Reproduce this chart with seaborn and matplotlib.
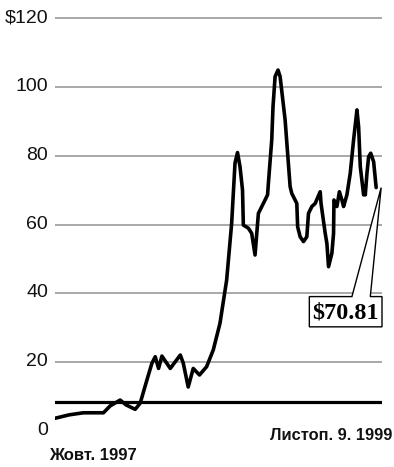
import datetime as dt

import matplotlib
matplotlib.use("Agg")
import matplotlib.pyplot as plt
import matplotlib.dates as mdates
import matplotlib.transforms as mtransforms
from matplotlib.patches import Polygon
import pandas as pd
import seaborn as sns

# Daily closing prices, Oct 1997 - Nov 9 1999
dates = [
    "1997-10-01", "1997-11-04", "1997-12-08", "1998-01-25", "1998-02-10",
    "1998-03-06", "1998-03-20", "1998-04-11", "1998-04-23", "1998-05-09",
    "1998-05-21", "1998-05-29", "1998-06-06", "1998-06-14", "1998-07-04",
    "1998-07-28", "1998-08-04", "1998-08-16", "1998-08-28", "1998-09-12",
    "1998-09-29", "1998-10-15", "1998-10-31", "1998-11-16", "1998-11-28",
    "1998-12-06", "1998-12-12", "1998-12-18", "1998-12-24", "1998-12-26",
    "1999-01-07", "1999-01-15", "1999-01-23", "1999-01-31", "1999-02-16",
    "1999-02-22", "1999-02-24", "1999-03-04", "1999-03-07", "1999-03-12",
    "1999-03-19", "1999-03-24", "1999-04-05", "1999-04-17", "1999-04-21",
    "1999-05-03", "1999-05-05", "1999-05-11", "1999-05-19", "1999-05-27",
    "1999-05-31", "1999-06-08", "1999-06-16", "1999-06-28", "1999-06-30",
    "1999-07-10", "1999-07-14", "1999-07-18", "1999-07-26", "1999-07-30",
    "1999-07-31", "1999-08-07", "1999-08-13", "1999-08-19", "1999-08-23",
    "1999-08-31", "1999-09-08", "1999-09-16", "1999-09-24", "1999-09-28",
    "1999-10-02", "1999-10-10", "1999-10-14", "1999-10-18", "1999-10-22",
    "1999-10-27", "1999-11-03", "1999-11-09",
]
prices = [
    3.7, 4.7, 5.3, 5.3, 7.3,
    9.0, 7.6, 6.3, 8.1, 14.8,
    19.7, 21.6, 18.2, 21.8, 18.2,
    22.1, 19.8, 12.8, 18.2, 16.3,
    18.7, 23.6, 31.3, 43.9, 60.4,
    77.9, 81.0, 76.9, 70.1, 59.9,
    59.0, 57.5, 51.2, 63.3, 67.2,
    68.7, 72.1, 84.7, 94.3, 103.1,
    105.0, 103.1, 90.5, 71.1, 69.1,
    66.2, 59.4, 56.5, 55.1, 56.5,
    63.3, 65.3, 66.2, 69.6, 66.2,
    57.5, 54.6, 47.8, 51.7, 57.5,
    67.2, 65.3, 69.6, 67.2, 65.3,
    68.7, 75.0, 84.7, 93.4, 88.5,
    76.9, 68.7, 68.7, 75.0, 79.8,
    80.8, 78.3, 70.81,
]
ytick_values = [0, 20, 40, 60, 80, 100, 120]
ytick_labels = ["0", "20", "40", "60", "80", "100", "\\$120"]
start_label = "Жовт. 1997"
end_label = "Листоп. 9. 1999"
floor_level = 8.5

sns.set_theme(style="white")
plt.rcParams["font.family"] = ["Liberation Sans", "DejaVu Sans"]

W, H, DPI = 394, 467, 100
fig = plt.figure(figsize=(W / DPI, H / DPI), dpi=DPI)
fig.patch.set_facecolor("white")

left_px, right_px, top_px, bottom_px = 55, 382, 11.6, 431
ax = fig.add_axes([left_px / W, 1 - bottom_px / H,
                   (right_px - left_px) / W, (bottom_px - top_px) / H])
ax.set_facecolor("white")

df = pd.DataFrame({"date": pd.to_datetime(dates), "price": prices})

# horizontal grid at the labelled levels (none at zero)
ax.set_yticks(ytick_values, ytick_labels)
ax.grid(axis="y", color="#9a9a9a", lw=1.2)
ax.grid(axis="x", visible=False)
ax.get_ygridlines()[0].set_visible(False)
ax.set_axisbelow(True)

ax.axhline(floor_level, color="black", lw=2.3, zorder=2)

sns.lineplot(data=df, x="date", y="price", ax=ax, color="black", lw=2.6,
             estimator=None, sort=False, solid_joinstyle="round",
             solid_capstyle="round", zorder=3)

start = df["date"].iloc[0]
end = df["date"].iloc[-1]
ax.set_xlim(start, end + dt.timedelta(days=14))
ax.set_ylim(0, 122)

ax.set_xlabel("")
ax.set_ylabel("")
ax.tick_params(axis="x", length=0, labelbottom=False)
ax.tick_params(axis="y", length=0, pad=5, labelsize=14, labelcolor="#111111")
lift = mtransforms.ScaledTranslation(0, 2.5 / DPI, fig.dpi_scale_trans)
for lab in ax.get_yticklabels():
    lab.set_transform(lab.get_transform() + lift)
for s in ax.spines.values():
    s.set_visible(False)

# callout box pointing at the last close
last_price = prices[-1]
end_num = mdates.date2num(end)
box_l, box_r = end_num - 160, end_num + 14
wedge_l, wedge_r = end_num - 58, end_num - 14
tip_x = end_num + 12
box_top, box_bot = 39.1, 30.3
callout = Polygon(
    [(box_l, box_top), (wedge_l, box_top), (tip_x, last_price),
     (wedge_r, box_top), (box_r, box_top), (box_r, box_bot), (box_l, box_bot)],
    closed=True, facecolor="white", edgecolor="black", lw=1.0, zorder=4,
    clip_on=False)
ax.add_patch(callout)
ax.text((box_l + box_r) / 2, (box_top + box_bot) / 2 - 0.3,
        f"\\${last_price:.2f}", ha="center", va="center",
        family=["Liberation Serif", "DejaVu Serif"], weight="bold",
        fontsize=17.5, color="black", zorder=5)

fig.text(49 / W, 1 - 456 / H, start_label, ha="left", va="center",
         fontsize=12, weight="bold", color="#111111")
fig.text(392 / W, 1 - 435.5 / H, end_label, ha="right", va="center",
         fontsize=11.8, weight="bold", color="#111111")

fig.savefig("out.png", dpi=DPI, facecolor="white")
